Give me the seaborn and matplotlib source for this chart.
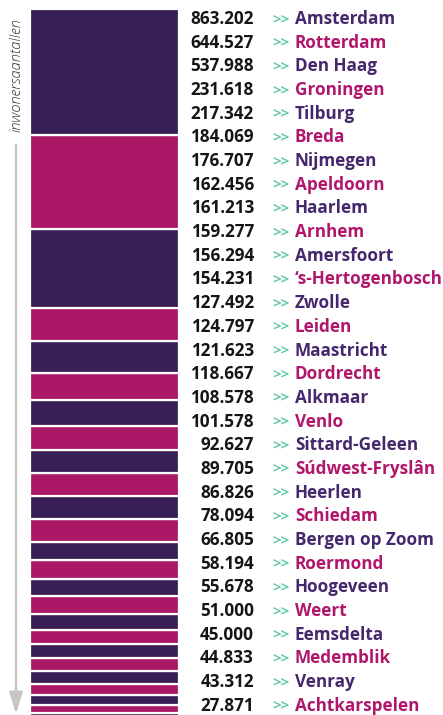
import matplotlib
matplotlib.use("Agg")
import matplotlib.pyplot as plt
import pandas as pd
import seaborn as sns

# gemeenten en inwonersaantallen
cities = [
    "Amsterdam", "Rotterdam", "Den Haag", "Groningen", "Tilburg", "Breda",
    "Nijmegen", "Apeldoorn", "Haarlem", "Arnhem", "Amersfoort",
    "\u2018s-Hertogenbosch", "Zwolle", "Leiden", "Maastricht", "Dordrecht",
    "Alkmaar", "Venlo", "Sittard-Geleen", "S\u00fadwest-Frysl\u00e2n", "Heerlen",
    "Schiedam", "Bergen op Zoom", "Roermond", "Hoogeveen", "Weert",
    "Eemsdelta", "Medemblik", "Venray", "Achtkarspelen",
]
inhabitants = [
    863202, 644527, 537988, 231618, 217342, 184069,
    176707, 162456, 161213, 159277, 156294,
    154231, 127492, 124797, 121623, 118667,
    108578, 101578, 92627, 89705, 86826,
    78094, 66805, 58194, 55678, 51000,
    45000, 44833, 43312, 27871,
]

dark = "#381f55"
magenta = "#ab1866"
dark_text = "#45286c"
magenta_text = "#b0176c"
mint = "#62c9a9"

sns.set_theme(style="white")
plt.rcParams["font.family"] = ["Open Sans", "DejaVu Sans"]

W, H = 443, 715
fig = plt.figure(figsize=(W / 100, H / 100), dpi=100, facecolor="white")
ax = fig.add_axes([0, 0, 1, 1])

df = pd.DataFrame({"stad": cities, "inwoners": inhabitants, "pos": 0})
palette = {c: (dark if i % 2 == 0 else magenta) for i, c in enumerate(cities)}

sns.histplot(
    data=df, x="pos", weights="inwoners", hue="stad", hue_order=cities,
    multiple="stack", discrete=True, palette=palette, alpha=1,
    edgecolor="white", linewidth=1.6, legend=False, ax=ax,
)

# pixel layout: bar from x=30 to 179, top at y=9, ~0.146 px per 1000
px_per_unit = 0.146 / 1000
bar_left, bar_right, bar_top = 30, 179, 9
unit_x = bar_right - bar_left
xl = -0.5 - bar_left / unit_x
ax.set_xlim(xl, xl + W / unit_x)
total = sum(inhabitants)
ytop = total + bar_top / px_per_unit
ax.set_ylim(ytop - H / px_per_unit, ytop)
ax.set_axis_off()

# labels on the right
for i, (city, n) in enumerate(zip(cities, inhabitants)):
    y = 1 - (24 + i * 23.68) / H
    num = f"{n:,}".replace(",", ".")
    fig.text(254 / W, y, num, ha="right", va="baseline", size=12.3,
             weight="bold", color="#151515")
    fig.text(272 / W, y, ">>", ha="left", va="baseline", size=11,
             weight="bold", color=mint)
    fig.text(295 / W, y, city, ha="left", va="baseline", size=12.3,
             weight="bold", color=dark_text if i % 2 == 0 else magenta_text)

# arrow + axis caption
ax.annotate(
    "", xy=(16, H - 714), xytext=(16, H - 145), xycoords="figure pixels",
    textcoords="figure pixels",
    arrowprops=dict(arrowstyle="-|>,head_length=0.65,head_width=0.2",
                    color="#c6c6c6", lw=1.8, mutation_scale=20,
                    shrinkA=0, shrinkB=0),
)
fig.text(16 / W, 1 - 75 / H, "inwonersaantallen", rotation=90, ha="center",
         va="center", size=10.5, style="italic", weight="light", color="#333333")

fig.savefig("out.png", dpi=100, facecolor="white")
